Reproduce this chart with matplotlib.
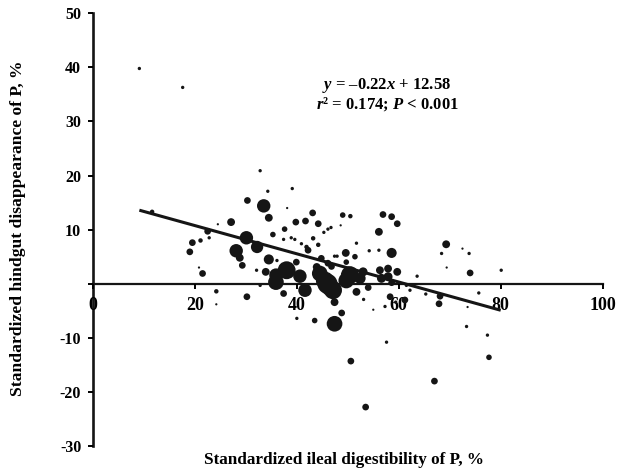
import numpy as np
import matplotlib
matplotlib.use("Agg")
import matplotlib.pyplot as plt

plt.rcParams['font.family'] = ['Liberation Serif', 'DejaVu Serif']
plt.rcParams['mathtext.fontset'] = 'custom'
plt.rcParams['mathtext.rm'] = 'Liberation Serif:bold'
plt.rcParams['mathtext.bf'] = 'Liberation Serif:bold'
plt.rcParams['mathtext.it'] = 'Liberation Serif:bold:italic'

# Standardized ileal digestibility (x), hindgut disappearance (y), bubble weight
sid = [9.1, 17.6, 11.6, 24.5, 27.1, 22.5, 22.8, 19.5, 21.1, 19.0,
       20.8, 21.5, 24.2, 24.2, 30.2, 30.3, 30.1, 28.1, 28.8, 29.3,
       32.2, 32.1, 32.8, 34.3, 33.5, 34.5, 38.1, 35.3, 37.6, 37.4,
       34.5, 33.9, 36.1, 32.8, 35.9, 37.4, 39.1, 43.1, 39.8, 41.7,
       44.2, 49.0, 50.5, 48.6, 38.9, 39.6, 40.9, 43.2, 45.3, 46.1,
       46.7, 44.2, 41.9, 42.2, 39.9, 51.7, 54.2, 56.1, 56.1, 56.9,
       58.6, 59.7, 58.6, 49.6, 51.4, 47.4, 47.9, 44.8, 49.7, 46.1,
       46.8, 43.9, 38.0, 35.9, 40.6, 41.6, 37.6, 44.5, 45.5, 46.5,
       47.1, 47.4, 50.4, 49.7, 53.0, 52.4, 51.7, 54.0, 56.3, 57.9,
       59.7, 56.6, 57.9, 58.6, 63.6, 61.5, 62.2, 65.3, 58.3, 59.4,
       53.1, 55.0, 57.3, 48.8, 47.4, 43.5, 40.0, 69.3, 68.4, 72.5,
       73.8, 69.4, 74.0, 80.1, 68.1, 67.9, 75.7, 73.5, 73.3, 77.4,
       77.7, 67.0, 57.6, 50.6, 53.5, 61.2, 46.0]
hgd = [39.8, 36.3, 13.3, 11.0, 11.4, 9.7, 8.5, 7.6, 8.0, 5.9,
       3.0, 1.9, -1.4, -3.8, -2.4, 15.4, 8.5, 6.1, 4.8, 3.4,
       6.8, 2.5, 20.9, 17.1, 14.4, 12.2, 14.0, 9.1, 10.1, 8.2,
       4.5, 2.2, 4.3, -0.3, 0.3, -1.8, 17.6, 13.1, 11.4, 11.6,
       11.1, 12.7, 12.5, 10.8, 8.5, 8.2, 7.4, 8.4, 9.5, 10.1,
       10.4, 7.2, 6.8, 6.2, 4.0, 7.5, 6.1, 6.2, 9.6, 12.8,
       12.4, 11.1, 5.7, 5.7, 5.0, 5.1, 5.1, 4.7, 4.0, 3.8,
       3.2, 3.1, 2.5, 1.6, 1.4, -1.2, -2.0, 1.9, 0.6, -0.6,
       -1.2, -3.4, 1.6, 0.6, 2.2, 1.0, -1.5, -0.7, 2.5, 2.8,
       2.2, 1.0, 1.3, 0.2, 1.4, -0.3, -1.2, -1.9, -2.4, -3.4,
       -2.9, -4.8, -4.2, -5.4, -7.4, -6.8, -6.4, 7.3, 5.6, 6.5,
       5.6, 3.0, 2.0, 2.5, -2.3, -3.7, -1.7, -4.3, -7.9, -9.5,
       -13.6, -18.0, -10.8, -14.3, -22.8, -3.0, 0.0]
weight = [1.5, 1.5, 2, 1, 3.5, 3, 1.5, 3, 2, 3,
          1, 3, 2, 1, 3, 3, 6, 6, 3.5, 3,
          5.5, 1.5, 1.5, 1.5, 6, 3.5, 1, 2.5, 2.5, 1.5,
          4.5, 3.5, 1.5, 1.5, 7, 3, 1.5, 3, 3, 3,
          3, 2.5, 2, 1, 1.5, 1.5, 1.5, 2, 1.5, 1.5,
          1.5, 2, 2, 3, 3, 1.5, 1.5, 1.5, 3.5, 3,
          3, 3, 4.5, 3.5, 2.5, 1.5, 1.5, 3, 2.5, 3,
          3, 3.5, 8, 6, 6, 6, 1.5, 7, 8, 8,
          8, 3.5, 8, 7, 4, 5, 3.5, 3, 3.5, 3.5,
          3.5, 4, 4, 3, 1.5, 1.5, 1.5, 1.5, 3, 1.5,
          1.5, 1, 1.5, 3, 7, 2.5, 1.5, 3.5, 1.5, 1,
          1.5, 1, 3, 1.5, 3, 3, 1.5, 1, 1.5, 1.5,
          2.5, 3, 1.5, 3, 3, 3, 9]

# fitted line as drawn in the figure
fit_x = [9.1, 80.0]
fit_y = [13.6, -4.9]

xticks = [0, 20, 40, 60, 80, 100]
yticks = [-30, -20, -10, 0, 10, 20, 30, 40, 50]
ytick_labels = ['-30', '-20', '-10', '', '10', '20', '30', '40', '50']

fig = plt.figure(figsize=(6.17, 4.69), dpi=100)
ax = fig.add_axes([0.1507, 0.049, 0.826, 0.9226])

sizes = 2.6 * np.array(weight) ** 2
ax.scatter(sid, hgd, s=sizes, c='#151515', linewidths=0, zorder=3)
ax.plot(fit_x, fit_y, color='#151515', lw=2.2, solid_capstyle='butt', zorder=2)

ax.set_xlim(0, 100)
ax.set_ylim(-30, 50)
ax.spines['top'].set_visible(False)
ax.spines['right'].set_visible(False)
ax.spines['bottom'].set_position(('data', 0))
ax.spines['left'].set_linewidth(1.9)
ax.spines['bottom'].set_linewidth(1.6)
ax.spines['left'].set_color('#151515')
ax.spines['bottom'].set_color('#151515')
ax.spines['left'].set_zorder(1)
ax.spines['bottom'].set_zorder(1)

ax.set_xticks(xticks)
ax.set_yticks(yticks)
ax.set_yticklabels(ytick_labels)
ax.tick_params(axis='x', direction='out', length=3.5, width=1.4, pad=6,
               labelsize=13)
ax.tick_params(axis='y', direction='out', length=3.5, width=1.4, pad=5,
               labelsize=11.5)
for lab in ax.get_xticklabels() + ax.get_yticklabels():
    lab.set_fontweight('bold')

ax.text(57.7, 36.7, r'$y$ = –0.22$x$ + 12.58', ha='center', va='center',
        fontsize=12, fontweight='bold')
ax.text(57.7, 33.2, r'$r$² = 0.174; $P$ < 0.001', ha='center', va='center',
        fontsize=12, fontweight='bold')

fig.text(344 / 617, 1 - 460 / 469, 'Standardized ileal digestibility of P, %',
         ha='center', va='center', fontsize=12.3, fontweight='bold')
fig.text(18 / 617, 1 - 228 / 469, 'Standardized hindgut disappearance of P, %',
         ha='center', va='center', rotation=90, fontsize=12.6, fontweight='bold')

fig.savefig('out.png', dpi=100)
